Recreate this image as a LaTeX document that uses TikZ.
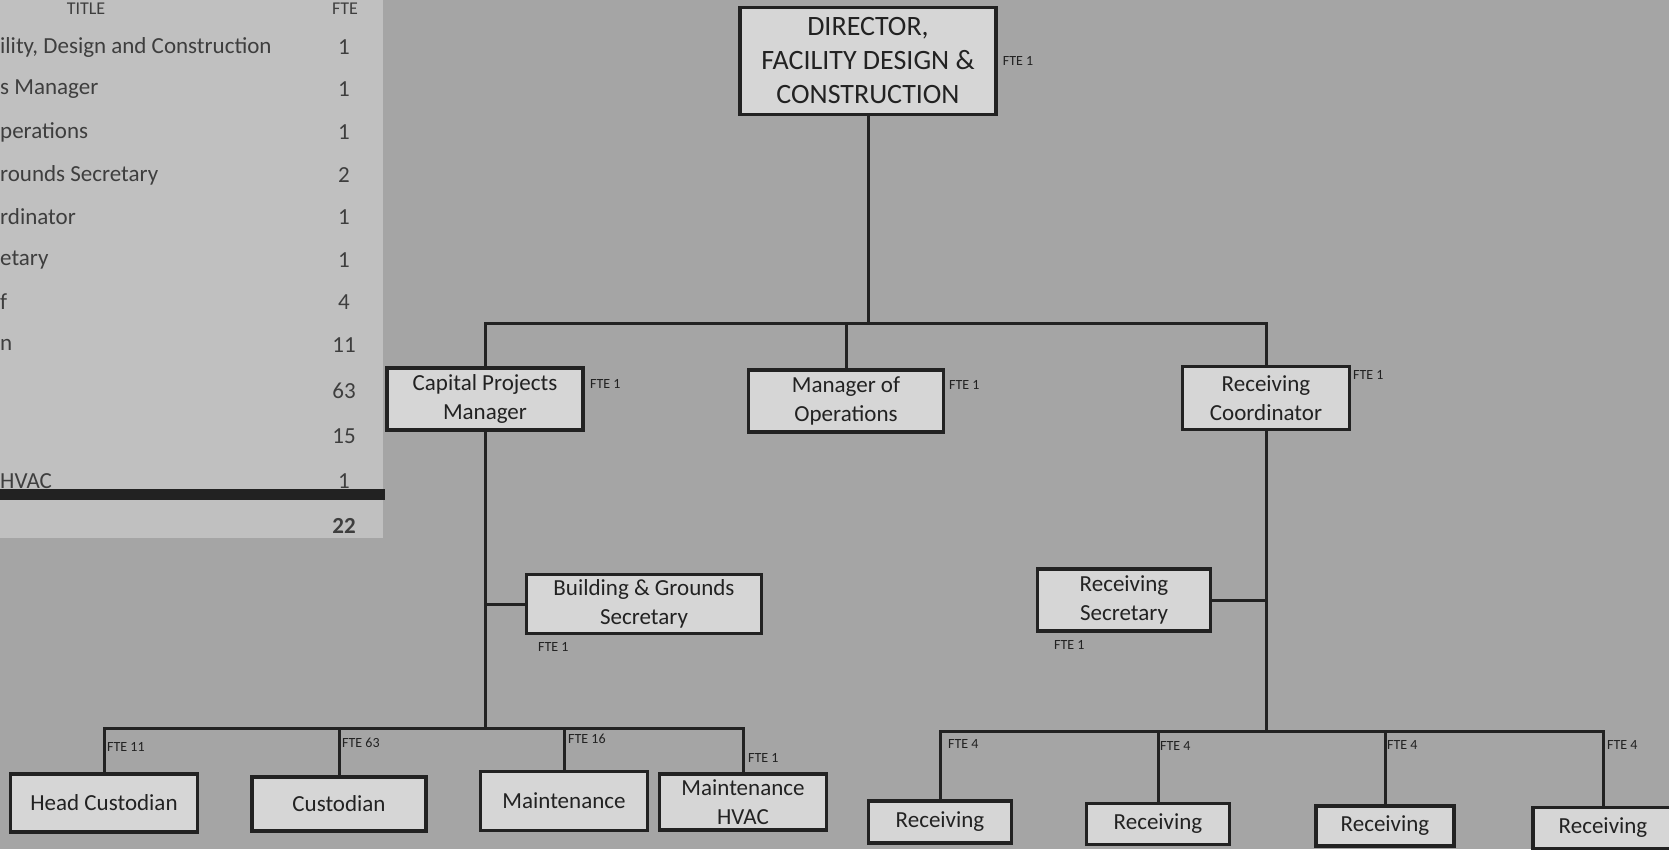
\documentclass[tikz,border=0pt]{standalone}
\usepackage{fontspec}
\setmainfont{Carlito}
\usepackage{tikz}
\usetikzlibrary{positioning}

\definecolor{paper}{RGB}{165,165,165}
\definecolor{sheet}{RGB}{192,192,192}
\definecolor{boxfill}{RGB}{214,214,214}
\definecolor{ink}{RGB}{34,34,34}
\definecolor{tabink}{RGB}{62,62,62}

\tikzset{
  post/.style={draw=ink, fill=boxfill, line width=3.5pt, align=center, text=ink,
               inner sep=0pt, font=\fontsize{23}{29}\selectfont},
  fte/.style={anchor=west, inner sep=0pt, text=ink, font=\fontsize{14}{14}\selectfont},
  link/.style={draw=ink, line width=3pt},
  cell/.style={anchor=west, inner sep=0pt, text=tabink, font=\fontsize{23}{23}\selectfont},
  num/.style={inner sep=0pt, text=tabink, font=\fontsize{23}{23}\selectfont}
}

\begin{document}
\begin{tikzpicture}[x=1pt,y=-1pt]
\useasboundingbox (0,0) rectangle (1669,849);
\clip (0,0) rectangle (1669,849);
\fill[paper] (0,0) rectangle (1669,849);
\fill[sheet] (0,0) rectangle (383,538);

% table
\node[num, font=\fontsize{18}{18}\selectfont] (th) at (86,9) {TITLE};
\node[num, font=\fontsize{18}{18}\selectfont] (fh) at (345,9) {FTE};
\node[cell] (t1) at (0,47) {ility, Design and Construction};
\node[num] (f1) at (344,47) {1};
\node[cell] (t2) at (0,89) {s Manager};
\node[num] (f2) at (344,89) {1};
\node[cell] (t3) at (0,132) {perations};
\node[num] (f3) at (344,132) {1};
\node[cell] (t4) at (0,175) {rounds Secretary};
\node[num] (f4) at (344,175) {2};
\node[cell] (t5) at (0,217) {rdinator};
\node[num] (f5) at (344,217) {1};
\node[cell] (t6) at (0,260) {etary};
\node[num] (f6) at (344,260) {1};
\node[cell] (t7) at (0,302) {f};
\node[num] (f7) at (344,302) {4};
\node[cell] (t8) at (0,345) {n};
\node[num] (f8) at (344,345) {11};
\node[num] (f9) at (344,391) {63};
\node[num] (f10) at (344,436) {15};
\node[cell] (t11) at (0,481) {HVAC};
\node[num] (f11) at (344,481) {1};
\fill[ink] (0,489) rectangle (385,500);
\node[num, font=\fontsize{23}{23}\bfseries] (ftot) at (344,526) {22};

% chart
\node[post, minimum width=256pt, minimum height=107pt, font=\fontsize{28}{34}\selectfont] (dir) at (868,61)
  {DIRECTOR,\\FACILITY DESIGN \&\\CONSTRUCTION};
\node[fte, right=5pt of dir] (dirfte) {FTE 1};

\node[post, minimum width=196pt, minimum height=62pt] (cpm) at (485,399) {Capital Projects\\Manager};
\node[post, minimum width=195pt, minimum height=62pt] (mo) at (846,401) {Manager of\\Operations};
\node[post, minimum width=167pt, minimum height=63pt] (rc) at (1266,398) {Receiving\\Coordinator};
\node[fte] (cpmfte) at (590,384) {FTE 1};
\node[fte] (mofte) at (949,385) {FTE 1};
\node[fte] (rcfte) at (1353,375) {FTE 1};

\node[post, minimum width=235pt, minimum height=59pt] (bgs) at (644,604) {Building \& Grounds\\Secretary};
\node[post, minimum width=173pt, minimum height=62pt] (rs) at (1124,600) {Receiving\\Secretary};
\node[fte] (bgsfte) at (538,647) {FTE 1};
\node[fte] (rsfte) at (1054,645) {FTE 1};

\node[post, minimum width=187pt, minimum height=58pt] (hc) at (104,803) {Head Custodian};
\node[post, minimum width=174pt, minimum height=54pt] (cus) at (339,804) {Custodian};
\node[post, minimum width=167pt, minimum height=59pt] (mnt) at (564,801) {Maintenance};
\node[post, minimum width=167pt, minimum height=56pt] (hvac) at (743,802) {Maintenance\\HVAC};
\node[fte] (hcfte) at (107,747) {FTE 11};
\node[fte] (cusfte) at (342,743) {FTE 63};
\node[fte] (mntfte) at (568,739) {FTE 16};
\node[fte] (hvacfte) at (748,758) {FTE 1};

\node[post, minimum width=143pt, minimum height=42pt] (r1) at (940,822) {Receiving};
\node[post, minimum width=143pt, minimum height=41pt] (r2) at (1158,824) {Receiving};
\node[post, minimum width=138pt, minimum height=40pt] (r3) at (1385,826) {Receiving};
\node[post, minimum width=140pt, minimum height=41pt] (r4) at (1603,828) {Receiving};
\node[fte] (r1fte) at (948,744) {FTE 4};
\node[fte] (r2fte) at (1160,746) {FTE 4};
\node[fte] (r3fte) at (1387,745) {FTE 4};
\node[fte] (r4fte) at (1607,745) {FTE 4};

\coordinate (top) at (867,323);
\coordinate (lbar) at (486,728);
\coordinate (rbar) at (1267,731);

\draw[link] (dir.south) -- (dir.south |- top);
\draw[link] (cpm.north) |- (top) -| (rc.north);
\draw[link] (mo.north) -- (mo.north |- top);

\draw[link] (cpm.south) -- (cpm.south |- lbar);
\draw[link] (bgs.west) -- (bgs.west -| cpm.south);
\draw[link] (hc.north) |- (lbar) -| (hvac.north);
\draw[link] (cus.north) -- (cus.north |- lbar);
\draw[link] (mnt.north) -- (mnt.north |- lbar);

\draw[link] (rc.south) -- (rc.south |- rbar);
\draw[link] (rs.east) -- (rs.east -| rc.south);
\draw[link] (r1.north) |- (rbar) -| (r4.north);
\draw[link] (r2.north) -- (r2.north |- rbar);
\draw[link] (r3.north) -- (r3.north |- rbar);
\end{tikzpicture}
\end{document}
